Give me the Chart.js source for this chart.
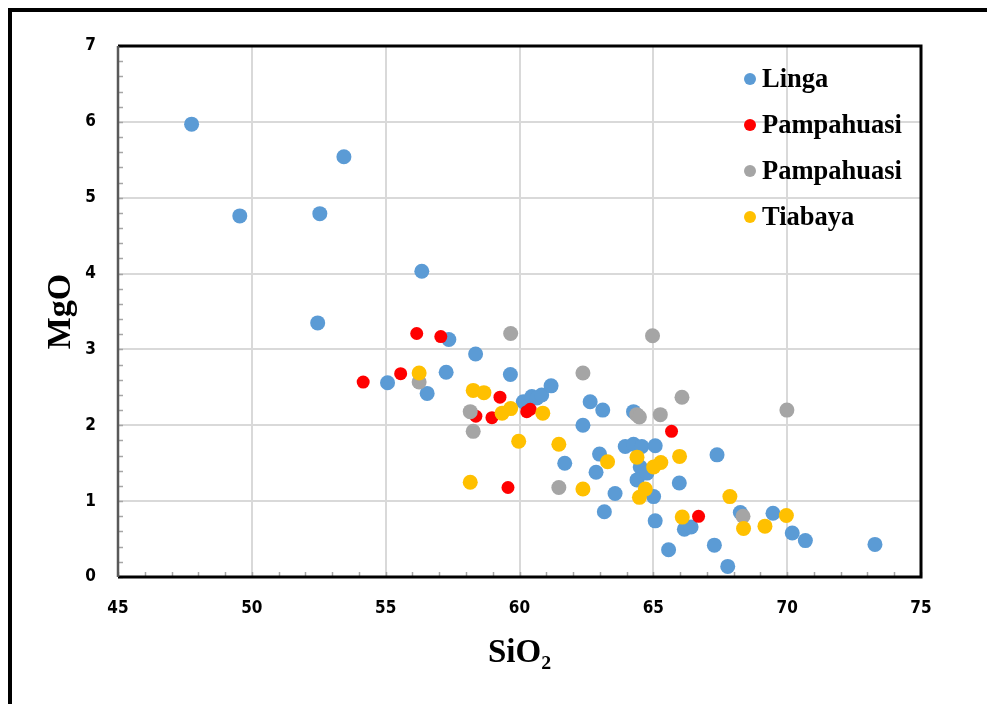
<!DOCTYPE html>
<html><head><meta charset="utf-8">
<script src="https://cdn.jsdelivr.net/npm/chart.js@4.4.1/dist/chart.umd.min.js"></script>
<style>
html,body{margin:0;padding:0;background:#fff;overflow:hidden;}
#wrap{position:relative;width:987px;height:704px;}
#frame{position:absolute;left:8px;top:8px;width:1200px;height:1200px;border-left:4px solid #000;border-top:4px solid #000;box-sizing:border-box;pointer-events:none;}
canvas{position:absolute;left:0;top:0;}
</style></head>
<body><div id="wrap"><canvas id="c" width="987" height="704"></canvas><div id="frame"></div></div>
<script>
const seriesNames = ['Linga', 'Pampahuasi', 'Pampahuasi', 'Tiabaya'];
const seriesColors = ['#5b9bd5', '#ff0000', '#a5a5a5', '#ffc000'];

const lingaSiO2 = [47.75, 49.55, 52.54, 53.44, 52.46, 56.35, 55.07, 56.55, 57.26, 57.36, 58.36, 59.66, 60.14, 60.46, 60.65, 60.83, 61.18, 62.37, 62.64, 63.11, 61.69, 62.99, 62.86, 63.17, 63.57, 63.95, 64.26, 64.26, 64.57, 65.07, 64.51, 64.39, 64.76, 65.01, 65.07, 65.57, 65.97, 66.16, 66.41, 67.28, 67.38, 67.78, 68.25, 69.47, 70.19, 70.68, 73.28];
const lingaMgO  = [5.97, 4.76, 4.79, 5.54, 3.35, 4.03, 2.56, 2.42, 2.70, 3.13, 2.94, 2.67, 2.31, 2.38, 2.36, 2.40, 2.52, 2.00, 2.31, 2.20, 1.50, 1.62, 1.38, 0.86, 1.10, 1.72, 1.75, 2.18, 1.72, 1.73, 1.45, 1.28, 1.37, 1.06, 0.74, 0.36, 1.24, 0.63, 0.66, 0.42, 1.61, 0.14, 0.85, 0.84, 0.58, 0.48, 0.43];

const pampaRedSiO2 = [54.16, 55.56, 56.16, 57.06, 58.37, 58.97, 59.27, 60.27, 60.40, 59.57, 65.68, 66.69];
const pampaRedMgO  = [2.57, 2.68, 3.21, 3.17, 2.12, 2.10, 2.37, 2.18, 2.21, 1.18, 1.92, 0.80];

const pampaGraySiO2 = [59.67, 56.25, 58.16, 58.27, 62.37, 61.47, 64.97, 66.07, 64.38, 64.48, 65.26, 69.99, 68.35];
const pampaGrayMgO  = [3.21, 2.57, 2.18, 1.92, 2.69, 1.18, 3.18, 2.37, 2.14, 2.11, 2.14, 2.20, 0.80];

const tiabayaSiO2 = [56.25, 58.27, 58.67, 59.35, 59.67, 60.87, 59.97, 61.47, 58.16, 62.37, 63.29, 64.39, 65.01, 65.28, 65.98, 64.70, 64.48, 66.08, 67.86, 68.37, 69.17, 69.97];
const tiabayaMgO  = [2.69, 2.46, 2.43, 2.16, 2.22, 2.16, 1.79, 1.75, 1.25, 1.16, 1.52, 1.58, 1.45, 1.51, 1.59, 1.16, 1.05, 0.79, 1.06, 0.64, 0.67, 0.81];

const xTitle = 'SiO₂';
const yTitle = 'MgO';

function pts(xs, ys) { return xs.map((x, i) => ({x: x, y: ys[i]})); }

const frameAndMinor = {
  id: 'frameAndMinor',
  beforeDatasetsDraw(chart) {
    const {ctx, chartArea: a, scales: {x, y}} = chart;
    ctx.save();
    ctx.strokeStyle = '#a6a6a6';
    ctx.lineWidth = 1.5;
    ctx.beginPath();
    for (let v = 45; v <= 75; v += 1) {
      const px = Math.round(x.getPixelForValue(v)) + 0.5;
      ctx.moveTo(px, a.bottom);
      ctx.lineTo(px, a.bottom - 5);
    }
    for (let k = 0; k <= 35; k++) {
      const py = Math.round(y.getPixelForValue(k * 0.2)) + 0.5;
      ctx.moveTo(a.left, py);
      ctx.lineTo(a.left + 5, py);
    }
    ctx.stroke();
    ctx.strokeStyle = '#000';
    ctx.lineWidth = 3;
    ctx.beginPath();
    ctx.moveTo(a.left, a.top);
    ctx.lineTo(a.right, a.top);
    ctx.lineTo(a.right, a.bottom);
    ctx.lineTo(a.left, a.bottom);
    ctx.stroke();
    ctx.strokeStyle = '#595959';
    ctx.lineWidth = 2.5;
    ctx.beginPath();
    ctx.moveTo(a.left, a.top);
    ctx.lineTo(a.left, a.bottom);
    ctx.stroke();
    ctx.restore();
  }
};

const insideLegend = {
  id: 'insideLegend',
  afterDraw(chart) {
    const {ctx, chartArea: a} = chart;
    ctx.save();
    ctx.font = 'bold 26.5px "Liberation Serif"';
    ctx.textBaseline = 'middle';
    ctx.textAlign = 'left';
    chart.data.datasets.forEach((ds, i) => {
      const yy = a.top + 33 + i * 46;
      const xx = a.right - 171;
      ctx.fillStyle = ds.backgroundColor;
      ctx.beginPath();
      ctx.arc(xx, yy, 6, 0, Math.PI * 2);
      ctx.fill();
      ctx.fillStyle = '#000';
      ctx.fillText(ds.label, xx + 12, yy + 1);
    });
    ctx.restore();
  }
};

const datasets = [
  {label: seriesNames[0], data: pts(lingaSiO2, lingaMgO), backgroundColor: seriesColors[0], pointRadius: 7.5, order: 4},
  {label: seriesNames[1], data: pts(pampaRedSiO2, pampaRedMgO), backgroundColor: seriesColors[1], pointRadius: 6.5, order: 3},
  {label: seriesNames[2], data: pts(pampaGraySiO2, pampaGrayMgO), backgroundColor: seriesColors[2], pointRadius: 7.5, order: 2},
  {label: seriesNames[3], data: pts(tiabayaSiO2, tiabayaMgO), backgroundColor: seriesColors[3], pointRadius: 7.5, order: 1}
].map(d => Object.assign(d, {borderWidth: 0, pointHoverRadius: d.pointRadius, borderColor: d.backgroundColor}));

const tickFont = {family: '"DejaVu Sans Condensed", "DejaVu Sans"', weight: 'bold', size: 17};

new Chart(document.getElementById('c'), {
  type: 'scatter',
  data: {datasets},
  options: {
    responsive: false,
    animation: false,
    events: [],
    layout: {padding: {left: 0, right: 66, top: 46, bottom: 0}},
    plugins: {legend: {display: false}, tooltip: {enabled: false}},
    scales: {
      x: {
        type: 'linear', min: 45, max: 75,
        afterFit(s) { s.height = 127; },
        ticks: {stepSize: 5, color: '#000', padding: 21, font: tickFont},
        grid: {color: '#d9d9d9', lineWidth: 2, drawTicks: false},
        border: {display: false},
        title: {display: true, text: xTitle, color: '#000', font: {family: 'Liberation Serif', weight: 'bold', size: 33}, padding: {top: 0, bottom: 31}}
      },
      y: {
        type: 'linear', min: 0, max: 7,
        afterFit(s) { s.width = 118; },
        ticks: {stepSize: 1, color: '#000', padding: 22, font: tickFont},
        grid: {color: '#d9d9d9', lineWidth: 2, drawTicks: false},
        border: {display: false},
        title: {display: true, text: yTitle, color: '#000', font: {family: 'Liberation Serif', weight: 'bold', size: 34}, padding: {top: 41, bottom: 0}}
      }
    }
  },
  plugins: [frameAndMinor, insideLegend]
});
</script>
</body></html>
